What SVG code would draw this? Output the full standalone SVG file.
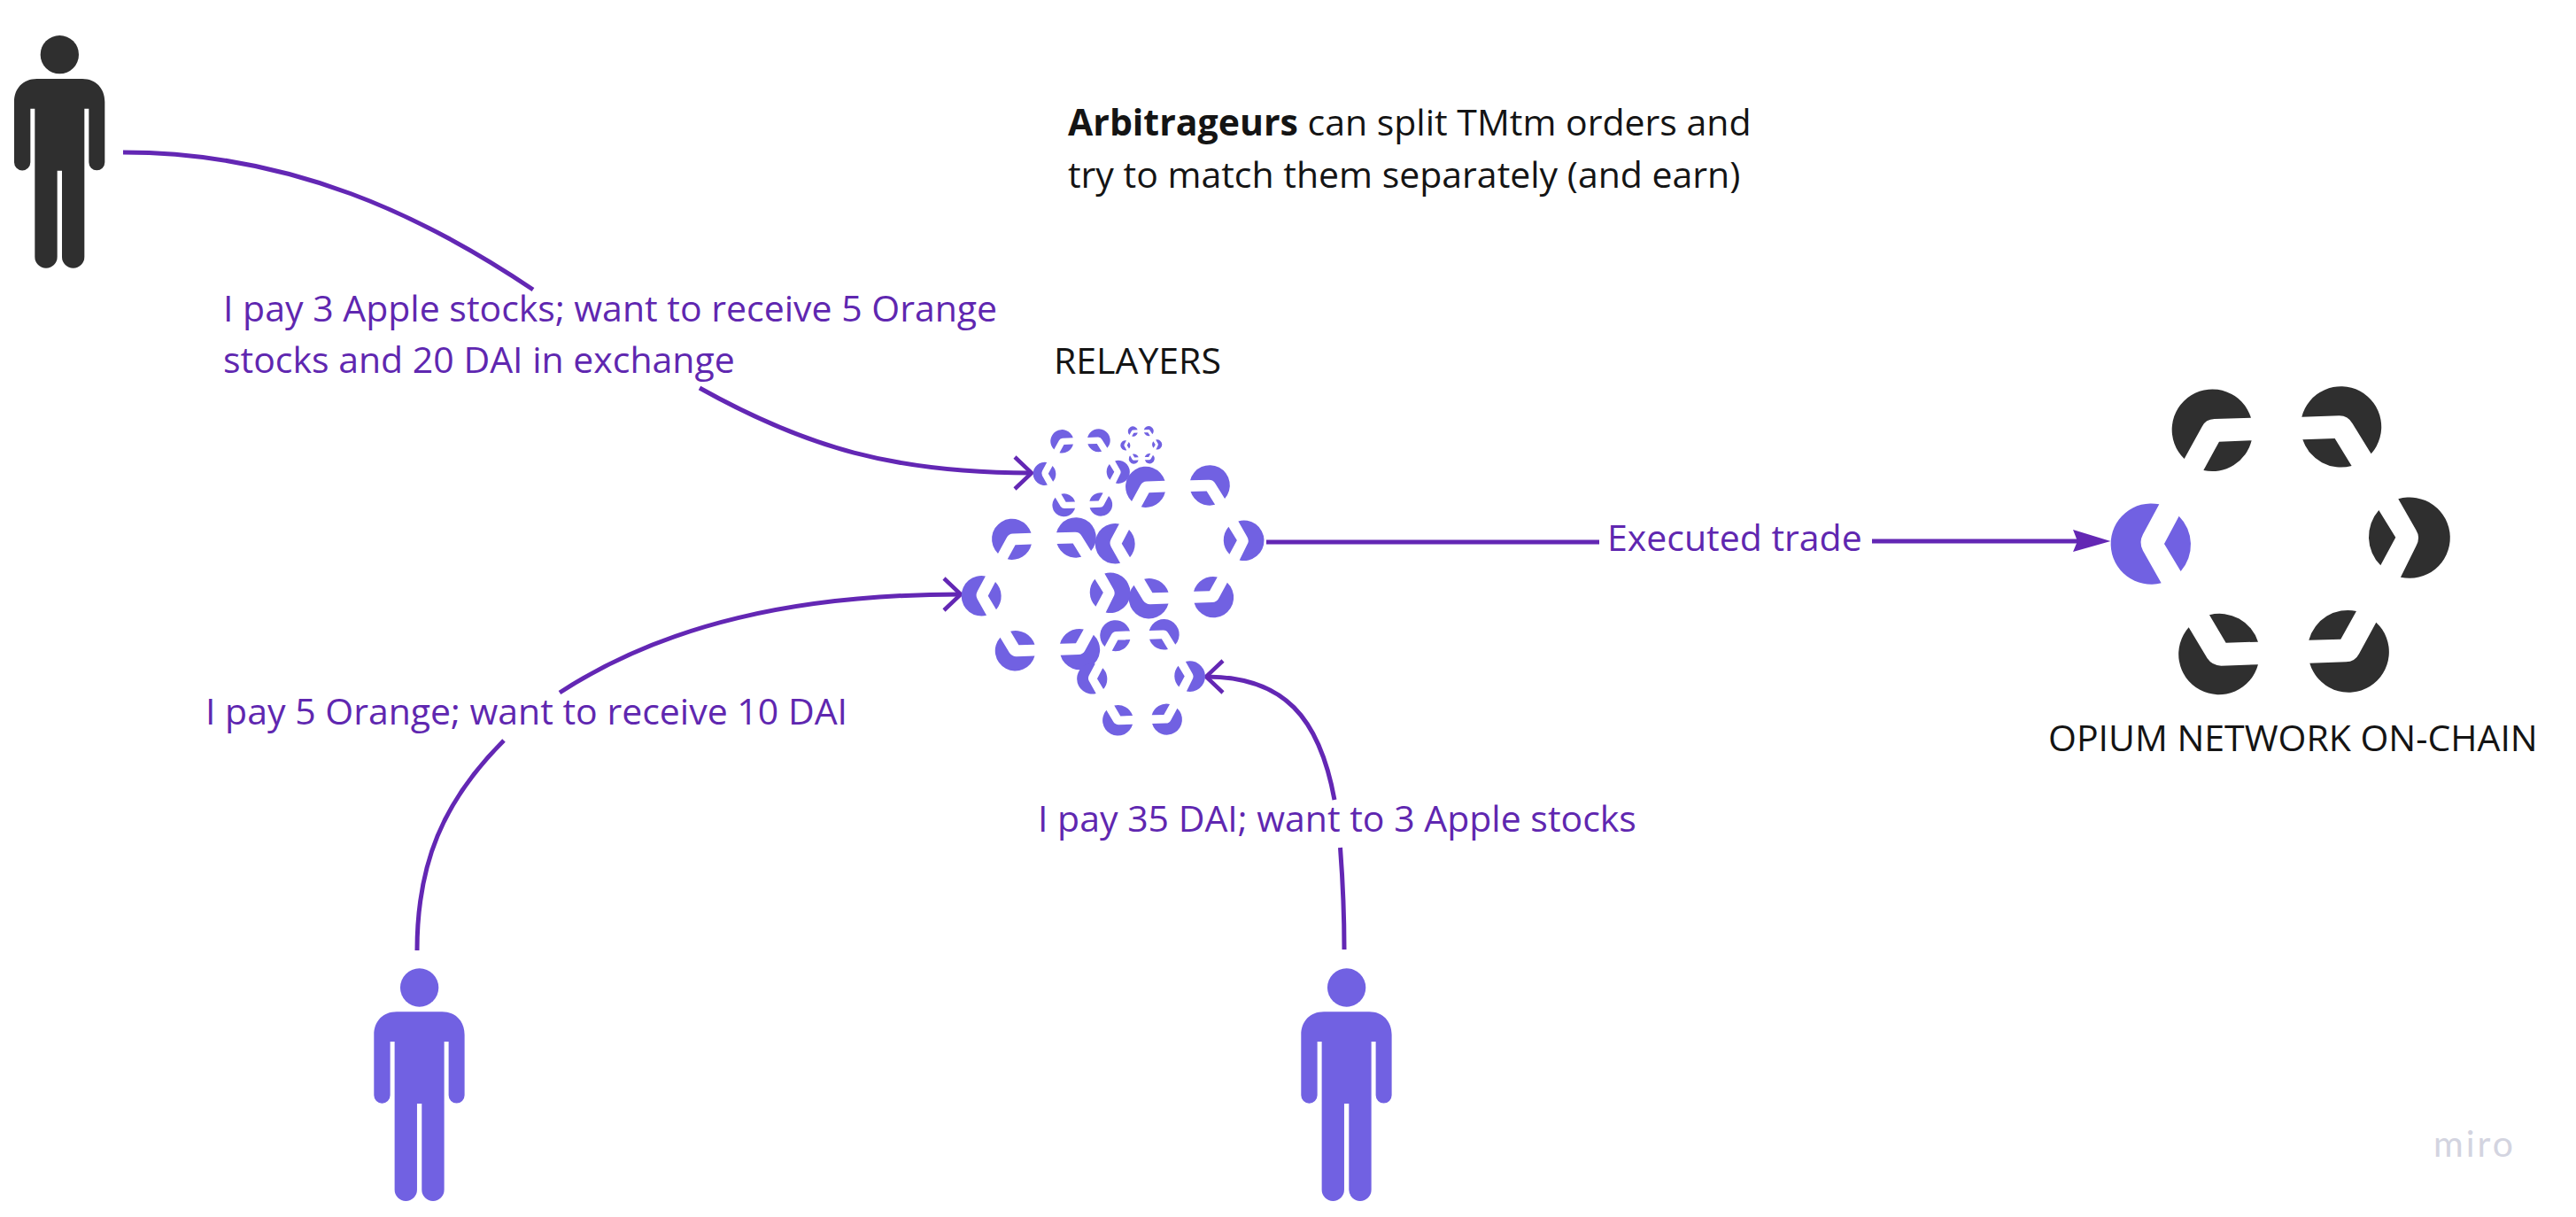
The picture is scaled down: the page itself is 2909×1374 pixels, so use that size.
<svg xmlns="http://www.w3.org/2000/svg" xmlns:xlink="http://www.w3.org/1999/xlink" width="2909" height="1374" viewBox="0 0 2909 1374">
<style>
text{font-family:"Open Sans","Noto Sans","Liberation Sans",sans-serif;font-size:41px}
.lbl{fill:#5f27b0}
.blk{fill:#141414}
.con{fill:none;stroke:#6327b4;stroke-width:5}
.tick{fill:none;stroke:#6327b4;stroke-width:4.5}
.pur{fill:#7161e2}
.drk{fill:#2f2f2f}
</style>
<defs>
<path id="pL" d="M295 448L240 550Q225 578 240 605L302 715A137 137 0 1 1 295 448ZM362 488L312 582L368 675A137 137 0 0 0 362 488Z"/>
<path id="pTL" d="M380 294L440 185Q452 160 482 159L606 155A137 137 0 1 0 380 294ZM498 236L608 232A137 137 0 0 1 445 333Z"/>
<path id="pTR" d="M778 152L905 148Q935 148 950 175L1013 277A137 137 0 1 0 778 152ZM781 229L890 225L947 318A137 137 0 0 1 781 229Z"/>
<path id="pR" d="M1105 430L1165 535Q1182 562 1165 590L1113 695A137 137 0 1 0 1105 430ZM1039 468L1096 560L1045 655A137 137 0 0 1 1039 468Z"/>
<path id="pBR" d="M1030 848L972 955Q958 982 928 982L805 986A137 137 0 1 0 1030 848ZM963 810L910 905L802 908A137 137 0 0 1 963 810Z"/>
<path id="pBL" d="M395 865L458 970Q475 995 505 995L630 991A137 137 0 1 1 395 865ZM465 823L521 917L630 914A137 137 0 0 0 465 823Z"/>
<g id="logoRest"><use xlink:href="#pTL" href="#pTL"/><use xlink:href="#pTR" href="#pTR"/><use xlink:href="#pR" href="#pR"/><use xlink:href="#pBR" href="#pBR"/><use xlink:href="#pBL" href="#pBL"/></g>
<g id="logo"><use xlink:href="#pL" href="#pL"/><use xlink:href="#logoRest" href="#logoRest"/></g>
<g id="person"><circle cx="202" cy="125" r="65"/><path d="M125 207H279C325 207 355 240 355 285V490A27 27 0 0 1 301 490V308H286V810A38 38 0 0 1 210 810V518H194V810A38 38 0 0 1 118 810V308H103V490A27 27 0 0 1 48 490V285C48 240 78 207 125 207Z"/></g>
</defs>
<g id="connectors">
<path class="con" d="M139 172C330 172 480 245 602 327"/>
<path class="con" d="M790 438C910 505 1010 534 1165 534"/>
<path class="tick" d="M1146 516L1165 534L1146 552"/>
<path class="con" d="M471 1073C471 975 500 905 569 836"/>
<path class="con" d="M632 782C750 705 900 671 1085 671"/>
<path class="tick" d="M1066 653L1085 671L1066 689"/>
<path class="con" d="M1518 1072C1518 1030 1516 990 1513.500 957"/>
<path class="con" d="M1507 903C1490 810 1450 764 1362 764"/>
<path class="tick" d="M1381 746L1362 764L1381 782"/>
<path class="con" d="M1430 612H1806"/>
<path class="con" d="M2114 611H2350"/>
<path fill="#6327b4" d="M2341 598L2383.400 611L2341 623L2346 611Z"/>
</g>
<g id="node-person-black" class="drk" transform="translate(0 20) scale(.3333)"><use xlink:href="#person" href="#person"/></g>
<g id="node-person-left" class="pur" transform="translate(406.300 1073.300) scale(.3333)"><use xlink:href="#person" href="#person"/></g>
<g id="node-person-right" class="pur" transform="translate(1453.300 1073.300) scale(.3333)"><use xlink:href="#person" href="#person"/></g>
<g id="node-relayers" class="pur">
<use xlink:href="#logo" href="#logo" transform="translate(1331.700 611.700) scale(.166) translate(-703.500 -570)"/>
<use xlink:href="#logo" href="#logo" transform="translate(1180.700 670.700) scale(.166) translate(-703.500 -570)"/>
<use xlink:href="#logo" href="#logo" transform="translate(1221 533.700) scale(.095) translate(-703.500 -570)"/>
<use xlink:href="#logo" href="#logo" transform="translate(1288.300 764.700) scale(.126) translate(-703.500 -570)"/>
<use xlink:href="#logo" href="#logo" transform="translate(1288.700 502.300) scale(.0409) translate(-703.500 -570)"/>
<text class="blk" x="1190" y="421.500">RELAYERS</text>
</g>
<g id="node-opium" transform="translate(2340 420) scale(.3333)">
<use class="pur" xlink:href="#pL" href="#pL"/>
<use class="drk" xlink:href="#logoRest" href="#logoRest"/>
</g>
<text class="blk" x="2313" y="848">OPIUM NETWORK ON-CHAIN</text>
<g id="labels">
<text class="lbl" x="252" y="363">I pay 3 Apple stocks; want to receive 5 Orange</text>
<text class="lbl" x="252" y="421">stocks and 20 DAI in exchange</text>
<text class="lbl" x="232" y="818">I pay 5 Orange; want to receive 10 DAI</text>
<text class="lbl" x="1172" y="939">I pay 35 DAI; want to 3 Apple stocks</text>
<text class="lbl" x="1815" y="622">Executed trade</text>
</g>
<text class="blk" x="1206" y="153"><tspan font-weight="700">Arbitrageurs</tspan> can split TMtm orders and</text>
<text class="blk" x="1206" y="212">try to match them separately (and earn)</text>
<text x="2748" y="1306" style="font-family:'Lato',sans-serif;font-size:41px;fill:#d3d4e0;letter-spacing:3px">miro</text>
</svg>
